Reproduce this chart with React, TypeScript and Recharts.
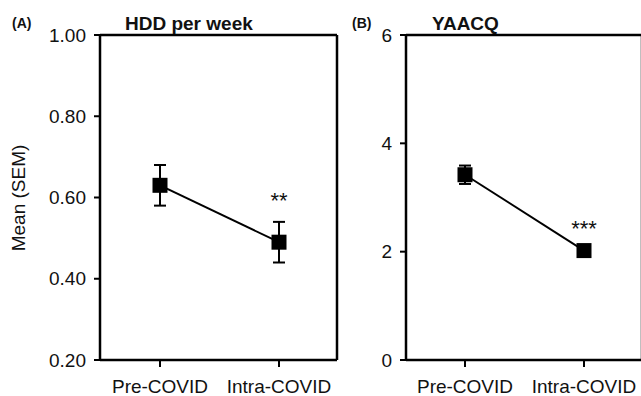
import React from "react";
import { CartesianGrid, ErrorBar, LabelList, Line, LineChart, XAxis, YAxis } from "recharts";

const categories = ["Pre-COVID", "Intra-COVID"];

const hddMean = [0.63, 0.49];
const hddSem = [0.05, 0.05];
const hddSig = ["", "**"];
const hddTicks = [0.2, 0.4, 0.6, 0.8, 1.0];

const yaacqMean = [3.42, 2.02];
const yaacqSem = [0.17, 0.08];
const yaacqSig = ["", "***"];
const yaacqTicks = [0, 2, 4, 6];

const FONT = '"Liberation Sans", Arial, sans-serif';
const INK = "#111";

const hddData = categories.map((cat, i) => ({ cat, mean: hddMean[i], sem: hddSem[i], sig: hddSig[i] }));
const yaacqData = categories.map((cat, i) => ({ cat, mean: yaacqMean[i], sem: yaacqSem[i], sig: yaacqSig[i] }));

const SquareDot = (props: any) => {
  const { cx, cy, index } = props;
  if (cx == null || cy == null) return null;
  return <rect key={`sq-${index}`} x={cx - 7.5} y={cy - 7.5} width={15} height={15} fill="#000" />;
};

const tickStyle = { fontSize: 19, fill: INK, fontFamily: FONT };
const axisLine = { stroke: "#000", strokeWidth: 2.5 };
const tickLine = { stroke: "#000", strokeWidth: 2 };

type PanelProps = {
  data: { cat: string; mean: number; sem: number; sig: string }[];
  domain: [number, number];
  ticks: number[];
  digits: number;
  width: number;
  marginLeft: number;
  marginRight: number;
  padLeft: number;
  padRight: number;
  sigOffset: number;
  yLabel?: boolean;
};

function Panel(p: PanelProps) {
  return (
    <LineChart
      width={p.width}
      height={396}
      data={p.data}
      margin={{ top: 35, right: p.marginRight, bottom: 0, left: p.marginLeft }}
    >
      {/* frame: top and right edges of the plot area */}
      <CartesianGrid
        stroke="#000"
        strokeWidth={2.5}
        horizontalCoordinatesGenerator={({ offset }: any) => [offset.top]}
        verticalCoordinatesGenerator={({ offset }: any) => [offset.left + offset.width]}
      />
      <XAxis
        dataKey="cat"
        height={36}
        padding={{ left: p.padLeft, right: p.padRight }}
        stroke="#000"
        axisLine={axisLine}
        tickLine={tickLine}
        tickSize={7}
        tickMargin={13}
        tick={tickStyle}
        interval={0}
      />
      <YAxis
        type="number"
        domain={p.domain}
        ticks={p.ticks}
        allowDataOverflow
        width={60}
        stroke="#000"
        axisLine={axisLine}
        tickLine={tickLine}
        tickSize={6}
        tickMargin={8}
        tick={tickStyle}
        tickFormatter={(v: number) => v.toFixed(p.digits)}
        label={
          p.yLabel
            ? {
                content: () => (
                  <text
                    x={25}
                    y={198}
                    transform="rotate(-90 25 198)"
                    textAnchor="middle"
                    fontSize={19}
                    fontFamily={FONT}
                    fill={INK}
                  >
                    Mean (SEM)
                  </text>
                ),
              }
            : undefined
        }
      />
      <Line
        dataKey="mean"
        stroke="#000"
        strokeWidth={2}
        dot={<SquareDot />}
        activeDot={false}
        isAnimationActive={false}
      >
        <ErrorBar dataKey="sem" direction="y" width={6} stroke="#000" strokeWidth={2} />
        <LabelList
          dataKey="sig"
          position="top"
          offset={p.sigOffset}
          style={{ fontSize: 22, fill: INK, fontFamily: FONT }}
        />
      </Line>
    </LineChart>
  );
}

const titleBase: React.CSSProperties = {
  position: "absolute",
  fontFamily: FONT,
  fontWeight: "bold",
  color: INK,
  lineHeight: 1,
  whiteSpace: "nowrap",
};

export default function App() {
  return (
    <div
      style={{
        position: "absolute",
        left: 0,
        top: 0,
        width: 641,
        height: 396,
        overflow: "hidden",
        background: "#fff",
      }}
    >
      <div style={{ position: "absolute", left: 0, top: 0 }}>
        <Panel
          data={hddData}
          domain={[0.2, 1.0]}
          ticks={hddTicks}
          digits={2}
          width={345}
          marginLeft={40}
          marginRight={8}
          padLeft={60}
          padRight={58}
          sigOffset={34}
          yLabel
        />
      </div>
      <div style={{ position: "absolute", left: 300, top: 0 }}>
        <Panel
          data={yaacqData}
          domain={[0, 6]}
          ticks={yaacqTicks}
          digits={0}
          width={350}
          marginLeft={46}
          marginRight={8}
          padLeft={59}
          padRight={58}
          sigOffset={15}
        />
      </div>
      <div style={{ ...titleBase, left: 12, top: 16, fontSize: 14 }}>(A)</div>
      <div style={{ ...titleBase, left: 125, top: 14, fontSize: 19 }}>HDD per week</div>
      <div style={{ ...titleBase, left: 352, top: 16, fontSize: 14 }}>(B)</div>
      <div style={{ ...titleBase, left: 432, top: 14, fontSize: 19 }}>YAACQ</div>
    </div>
  );
}
